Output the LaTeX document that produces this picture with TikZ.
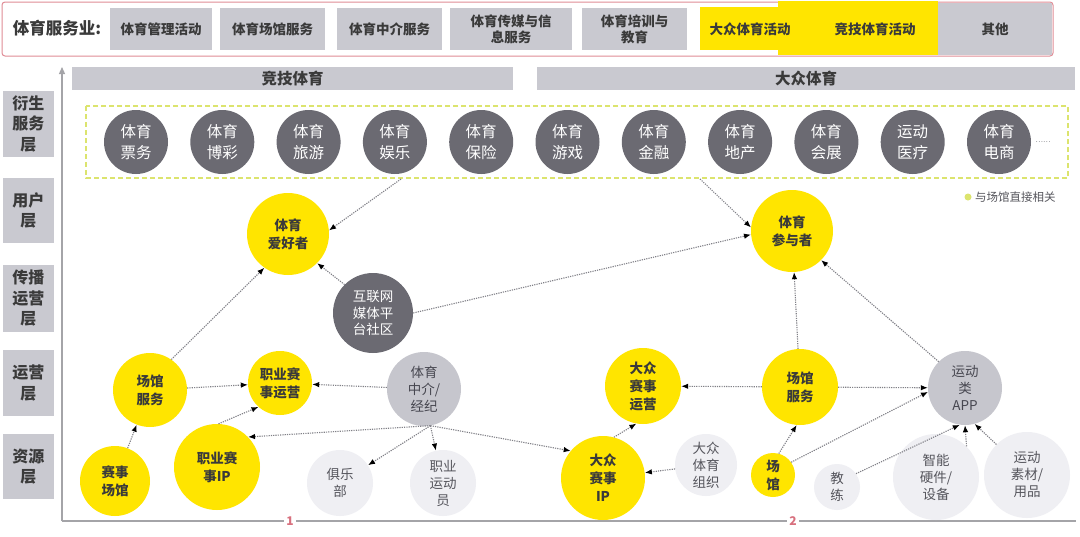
\documentclass[tikz,border=0pt]{standalone}
\usepackage{fontspec}
\setmainfont{Noto Sans CJK SC}
\usetikzlibrary{arrows.meta}
\definecolor{yel}{HTML}{FFE500}
\definecolor{boxgray}{HTML}{C9C9D0}
\definecolor{dgray}{HTML}{6B6A72}
\definecolor{mgray}{HTML}{C6C6CD}
\definecolor{vlight}{HTML}{EFEFF3}
\definecolor{txtdark}{HTML}{3A3A3A}
\definecolor{gtext}{HTML}{474750}
\definecolor{wtext}{HTML}{55555C}
\definecolor{redline}{HTML}{E08C96}
\definecolor{bandc}{HTML}{DCE46E}
\definecolor{conncol}{HTML}{808087}
\definecolor{axiscol}{HTML}{A4A4A8}
\definecolor{numcol}{HTML}{D8707E}
\begin{document}
\begin{tikzpicture}[x=1pt,y=-1pt,
  catbox/.style={fill=boxgray, text=txtdark, inner sep=0pt, align=center,
    font=\bfseries\fontsize{13.5}{16}\selectfont},
  ycatbox/.style={text=txtdark, inner sep=0pt, align=center,
    font=\bfseries\fontsize{13.5}{16}\selectfont},
  headbar/.style={fill=boxgray, text=txtdark, inner sep=0pt,
    font=\bfseries\fontsize{15.5}{18}\selectfont},
  layerbox/.style={fill=boxgray, text=txtdark, inner sep=0pt, align=center,
    minimum width=51pt, font=\bfseries\fontsize{16}{20.5}\selectfont},
  dcirc/.style={circle, fill=dgray, inner sep=0pt, align=center, text=white,
    minimum size=64pt, font=\fontsize{15.5}{21}\selectfont},
  ycirc/.style={circle, fill=yel, inner sep=0pt, align=center, text=txtdark,
    font=\bfseries\fontsize{13.5}{18}\selectfont},
  gcirc/.style={circle, fill=mgray, inner sep=0pt, align=center, text=gtext,
    font=\fontsize{13.5}{17}\selectfont},
  mcirc/.style={circle, fill=dgray, inner sep=0pt, align=center, text=white,
    font=\fontsize{13.5}{16.5}\selectfont},
  wcirc/.style={circle, fill=vlight, inner sep=0pt, align=center, text=wtext,
    font=\fontsize{13.5}{17}\selectfont},
  conn/.style={draw=conncol, line width=1.1pt, dash pattern=on 1.2pt off 1.1pt,
    -{Latex[length=7pt,width=5.5pt,color=black]}},
  axisl/.style={draw=axiscol, line width=1.3pt},
  numlab/.style={fill=white, text=numcol, inner sep=2pt,
    font=\bfseries\fontsize{12}{12}\selectfont}
]
\useasboundingbox (0,0) rectangle (1080,536);
\fill[white] (0,0) rectangle (1080,536);

% ---------- top bar ----------
\draw[redline, line width=1pt, rounded corners=3pt] (2,2) rectangle (1053,56);
\node[text=txtdark, font=\bfseries\fontsize{16.5}{19}\selectfont] (sector) at (57,28) {体育服务业:};
\node[catbox, minimum width=102pt, minimum height=42pt] (c1) at (161,29) {体育管理活动};
\node[catbox, minimum width=105pt, minimum height=42pt] (c2) at (272.5,29) {体育场馆服务};
\node[catbox, minimum width=105pt, minimum height=42pt] (c3) at (389.5,29) {体育中介服务};
\node[catbox, minimum width=122pt, minimum height=42pt] (c4) at (511,29) {体育传媒与信\\息服务};
\node[catbox, minimum width=105pt, minimum height=42pt] (c5) at (634.5,29) {体育培训与\\教育};
\fill[yel] (700,7) rectangle (790,50);
\fill[yel] (778,1) rectangle (938,55);
\node[ycatbox] (c6) at (750,29) {大众体育活动};
\node[ycatbox] (c7) at (875,29) {竞技体育活动};
\node[catbox, minimum width=114pt, minimum height=52pt] (c8) at (995,29) {其他};

% ---------- header bars ----------
\node[headbar, minimum width=441pt, minimum height=23pt] (jj) at (292.5,78.5) {竞技体育};
\node[headbar, minimum width=538pt, minimum height=23pt] (dz) at (806,78.5) {大众体育};

% ---------- layer labels ----------
\node[layerbox, minimum height=66pt] (L1) at (28.5,124) {衍生\\服务\\层};
\node[layerbox, minimum height=65pt] (L2) at (28.5,210.5) {用户\\层};
\node[layerbox, minimum height=67pt] (L3) at (28.5,298.5) {传播\\运营\\层};
\node[layerbox, minimum height=66pt] (L4) at (28.5,383) {运营\\层};
\node[layerbox, minimum height=65pt] (L5) at (28.5,466.5) {资源\\层};

% ---------- axes ----------
\coordinate (org) at (62,521);
\coordinate (ytop) at (62,67);
\coordinate (xend) at (1076,521);
\draw[axisl] (org) -- (xend);
\draw[axisl, -{Triangle[length=7pt,width=6pt]}] (org) -- (ytop);
\node[numlab] (n1) at (290,521) {1};
\node[numlab] (n2) at (793,521) {2};

% ---------- derivative band ----------
\draw[bandc, line width=1.2pt, dash pattern=on 5pt off 3pt] (86,106) rectangle (1068,178);
\foreach \i/\t in {0/{体育\\票务},1/{体育\\博彩},2/{体育\\旅游},3/{体育\\娱乐},4/{体育\\保险},
  5/{体育\\游戏},6/{体育\\金融},7/{体育\\地产},8/{体育\\会展},9/{运动\\医疗},10/{体育\\电商}}{
  \node[dcirc] (t\i) at ({136+86.3*\i},142) {\t};
}
\node[text=gtext, font=\fontsize{7}{7}\selectfont] (more) at (1043,142) {……};
\node[circle, fill=bandc, inner sep=0pt, minimum size=7pt] (ldot) at (968,197) {};
\node[anchor=west, text=wtext, inner sep=0pt, font=\fontsize{11.5}{13}\selectfont] (ltext) at (975,197) {与场馆直接相关};

% ---------- main nodes ----------
\node[ycirc, minimum size=82pt] (aihao) at (288,234) {体育\\爱好者};
\node[ycirc, minimum size=82pt] (canyu) at (792,231) {体育\\参与者};
\node[mcirc, minimum size=80pt] (hulian) at (373,313) {互联网\\媒体平\\台社区};
\node[ycirc, minimum size=74pt] (cgfw1) at (150,390) {场馆\\服务};
\node[ycirc, minimum size=64pt] (zysy) at (280,383) {职业赛\\事运营};
\node[gcirc, minimum size=74pt] (zhongjie) at (424,389) {体育\\中介/\\经纪};
\node[ycirc, minimum size=70pt] (scg) at (115,481) {赛事\\场馆};
\node[ycirc, minimum size=86pt] (zyip) at (217,467) {职业赛\\事IP};
\node[wcirc, minimum size=66pt] (club) at (340,483) {俱乐\\部};
\node[wcirc, minimum size=66pt] (athlete) at (443,483) {职业\\运动\\员};
\node[ycirc, minimum size=84pt] (dzip) at (603,478) {大众\\赛事\\IP};
\node[ycirc, minimum size=76pt] (dzsy) at (643,386) {大众\\赛事\\运营};
\node[wcirc, minimum size=62pt] (dzzz) at (706,465) {大众\\体育\\组织};
\node[ycirc, minimum size=76pt] (cgfw2) at (800,387) {场馆\\服务};
\node[ycirc, minimum size=44pt] (cg) at (773,475) {场\\馆};
\node[gcirc, minimum size=74pt] (app) at (965,388) {运动\\类\\APP};
\node[wcirc, minimum size=46pt] (coach) at (837,487) {教\\练};
\node[wcirc, minimum size=86pt] (hw) at (936,477) {智能\\硬件/\\设备};
\node[wcirc, minimum size=86pt] (sc) at (1027,475) {运动\\素材/\\用品};

% ---------- connectors ----------
\coordinate (d1) at (401,179);
\coordinate (d2) at (700,179);
\draw[conn] (d1) -- (aihao.5);
\draw[conn] (d2) -- (canyu.175);
\draw[conn] (hulian.135) -- (aihao.-45);
\draw[conn] (hulian.east) -- (canyu.185);
\draw[conn] (cgfw1.55) -- (aihao.-125);
\draw[conn] (cgfw1) -- (zysy);
\draw[conn] (scg) -- (cgfw1);
\draw[conn] (zyip.88) -- (zysy.-132);
\draw[conn] (zhongjie) -- (zysy);
\draw[conn] (zhongjie.-80) -- (zyip.44);
\draw[conn] (zhongjie.-80) -- (club);
\draw[conn] (zhongjie.-80) -- (athlete);
\draw[conn] (zhongjie.-80) -- (dzip.140);
\draw[conn] (dzip.75) -- (dzsy.-100);
\draw[conn] (dzzz) -- (dzip);
\draw[conn] (cgfw2) -- (dzsy);
\draw[conn] (cgfw2) -- (canyu);
\draw[conn] (cgfw2) -- (app);
\draw[conn] (app.135) -- (canyu.-45);
\draw[conn] (cg.75) -- (cgfw2.-95);
\draw[conn] (cg.35) -- (app.186);
\draw[conn] (coach.35) -- (app.-98);
\draw[conn] (hw.45) -- (app.-90);
\draw[conn] (sc.135) -- (app.-75);
\end{tikzpicture}
\end{document}
